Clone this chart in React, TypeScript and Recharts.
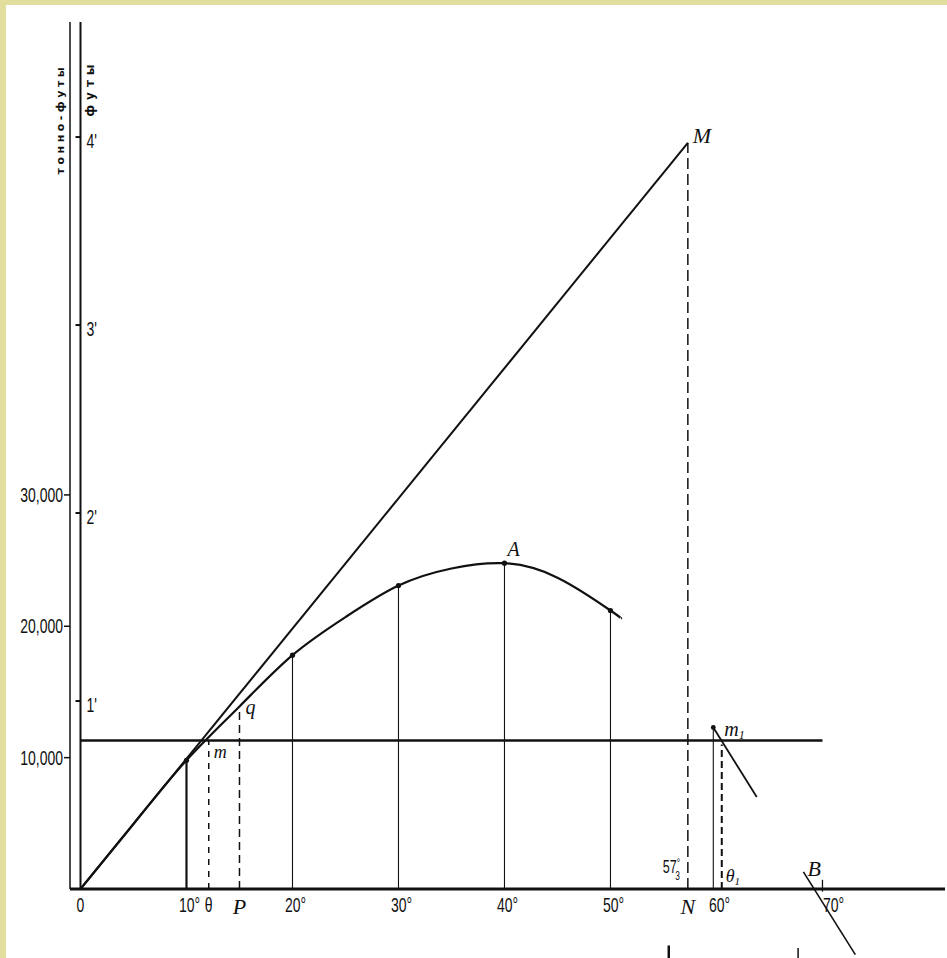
import { ComposedChart, Line, XAxis, YAxis, ReferenceLine, ReferenceDot } from 'recharts';

// moment curve (tonne-feet)
const curveDeg = [0, 5, 10, 15, 20, 25, 30, 35, 40, 45, 50, 51];
const curveVal = [0, 4950, 9800, 13900, 17800, 20700, 23100, 24400, 24800, 23700, 21200, 20600];

// ordinates drawn down from the curve
const ordDeg = [10, 20, 30, 40, 50];
const ordVal = [9800, 17800, 23100, 24800, 21200];

// tangent O-M, reaching 4 ft at one radian
const omDeg = [0, 57.3];
const omVal = [0, 56800];

// horizontal moment line
const heelDeg = [0, 70];
const heelVal = [11300, 11300];

// descending pieces of the curve near m1 and B
const m1Deg = [59.7, 63.8];
const m1Val = [12300, 7000];
const bDeg = [68.2, 73.1];
const bVal = [1300, -5000];

const xTicks = [0, 10, 12.1, 15, 20, 30, 40, 50, 57.3, 60, 70];
const xTickLabels = ['0', '10°', 'θ', 'P', '20°', '30°', '40°', '50°', 'N', '60°', '70°'];
const yTicks = [10000, 20000, 30000];
const ftTicks = [1, 2, 3, 4];
const ftLabels = ["1'", "2'", "3'", "4'"];

const SANS = "'Liberation Sans', Arial, sans-serif";
const SERIF = "'Liberation Serif', 'DejaVu Serif', serif";
const INK = '#111';
const BORDER = '#e2de9e';

// condensed print imitation: squeeze ordinary sans horizontally
const Narrow = ({ x, y, anchor = 'start', size = 20, children }: any) => (
  <text
    transform={`translate(${x} ${y}) scale(0.7 1)`}
    textAnchor={anchor}
    fill={INK}
    fontFamily={SANS}
    fontSize={size}
  >
    {children}
  </text>
);

const XTick = (p: any) => {
  const i = xTicks.indexOf(p.payload.value);
  const label = xTickLabels[i] ?? '';
  const italic = label === 'P' || label === 'N';
  const dx = label === '70°' ? 11 : label.endsWith('°') ? 3 : 0;
  if (italic) {
    return (
      <text x={p.x} y={p.y + 25} textAnchor="middle" fill={INK} fontFamily={SERIF} fontStyle="italic" fontSize={22}>
        {label}
      </text>
    );
  }
  return (
    <Narrow x={p.x + dx} y={p.y + 23} anchor="middle">
      {label}
    </Narrow>
  );
};

const YTick = (p: any) => (
  <Narrow x={p.x} y={p.y + 7} anchor="end">
    {Number(p.payload.value).toLocaleString('en-US')}
  </Narrow>
);

const tag = (text: string, dx: number, dy: number, size = 20) => (p: any) => (
  <text x={p.cx + dx} y={p.cy + dy} fill={INK} fontFamily={SERIF} fontStyle="italic" fontSize={size}>
    {text}
  </text>
);

export default function App() {
  const curve = curveDeg.map((d, i) => ({ deg: d, v: curveVal[i] }));
  const om = omDeg.map((d, i) => ({ deg: d, v: omVal[i] }));
  const heel = heelDeg.map((d, i) => ({ deg: d, v: heelVal[i] }));
  const m1 = m1Deg.map((d, i) => ({ deg: d, v: m1Val[i] }));

  return (
    <div style={{ position: 'absolute', left: 0, top: 0, width: 947, height: 958, background: '#fff', overflow: 'hidden' }}>
      <div style={{ position: 'absolute', left: 0, top: 0, width: 947, height: 5, background: BORDER }} />
      <div style={{ position: 'absolute', left: 0, top: 0, width: 6, height: 958, background: BORDER }} />
      <ComposedChart
        width={947}
        height={958}
        margin={{ top: 22, right: 2, bottom: 39, left: 0 }}
        style={{ position: 'absolute', left: 0, top: 0 }}
      >
        <XAxis
          type="number"
          dataKey="deg"
          domain={[-0.99, 81.56]}
          allowDataOverflow
          ticks={xTicks}
          interval={0}
          tick={(p: any) => <XTick {...p} />}
          tickLine={false}
          tickSize={0}
          tickMargin={0}
          height={30}
          axisLine={{ stroke: INK, strokeWidth: 3 }}
        />
        <YAxis
          type="number"
          domain={[0, 66000]}
          allowDataOverflow
          ticks={yTicks}
          interval={0}
          width={70}
          tickSize={6}
          tickMargin={1}
          tick={(p: any) => <YTick {...p} />}
          tickLine={{ stroke: INK, strokeWidth: 1.5 }}
          axisLine={{ stroke: INK, strokeWidth: 1.5 }}
        />
        <YAxis yAxisId="ft" orientation="right" type="number" domain={[0, 4.612]} allowDataOverflow hide />

        {/* feet axis */}
        <ReferenceLine x={0} stroke={INK} strokeWidth={2} />
        {ftTicks.map((f, i) => (
          <ReferenceDot
            key={f}
            x={0}
            y={f}
            yAxisId="ft"
            shape={(p: any) => (
              <g>
                <line x1={p.cx - 5} x2={p.cx} y1={p.cy} y2={p.cy} stroke={INK} strokeWidth={2} />
                <Narrow x={p.cx + 6} y={p.cy + 11}>
                  {ftLabels[i]}
                </Narrow>
              </g>
            )}
          />
        ))}
        <ReferenceDot
          x={0}
          y={4}
          yAxisId="ft"
          ifOverflow="visible"
          shape={(p: any) => (
            <g fill={INK} fontFamily="'DejaVu Sans', sans-serif" fontWeight="bold">
              <text
                x={p.cx - 19.5}
                y={p.cy - 18}
                transform={`rotate(-90 ${p.cx - 19.5} ${p.cy - 18})`}
                textAnchor="middle"
                dominantBaseline="central"
                fontSize={11}
                letterSpacing={3.5}
              >
                тонно-футы
              </text>
              <text
                x={p.cx + 9.5}
                y={p.cy - 49}
                transform={`rotate(-90 ${p.cx + 9.5} ${p.cy - 49})`}
                textAnchor="middle"
                dominantBaseline="central"
                fontSize={12}
                letterSpacing={5}
              >
                футы
              </text>
            </g>
          )}
        />

        {/* ordinates */}
        {ordDeg.map((d, i) => (
          <ReferenceLine
            key={d}
            segment={[{ x: d, y: 0 }, { x: d, y: ordVal[i] }]}
            stroke={INK}
            strokeWidth={d === 10 ? 2.2 : 1.1}
          />
        ))}
        <ReferenceLine segment={[{ x: m1Deg[0], y: 0 }, { x: m1Deg[0], y: m1Val[0] }]} stroke={INK} strokeWidth={1.1} />

        {/* dashed verticals */}
        <ReferenceLine segment={[{ x: xTicks[2], y: 0 }, { x: xTicks[2], y: heelVal[0] }]} stroke={INK} strokeWidth={1.5} strokeDasharray="6 6" />
        <ReferenceLine segment={[{ x: xTicks[3], y: 0 }, { x: xTicks[3], y: 13600 }]} stroke={INK} strokeWidth={1.5} strokeDasharray="8 5" />
        <ReferenceLine segment={[{ x: omDeg[1], y: 0 }, { x: omDeg[1], y: omVal[1] }]} stroke={INK} strokeWidth={1.5} strokeDasharray="11 5" />
        <ReferenceLine segment={[{ x: 60.5, y: 0 }, { x: 60.5, y: 11000 }]} stroke={INK} strokeWidth={2} strokeDasharray="7 4" />

        <Line data={heel} dataKey="v" type="linear" stroke={INK} strokeWidth={2.5} dot={false} isAnimationActive={false} />
        <Line data={om} dataKey="v" type="linear" stroke={INK} strokeWidth={2} dot={false} isAnimationActive={false} />
        <Line data={curve} dataKey="v" type="natural" stroke={INK} strokeWidth={2.2} dot={false} isAnimationActive={false} />
        <Line data={m1} dataKey="v" type="linear" stroke={INK} strokeWidth={1.8} dot={false} isAnimationActive={false} />
        <ReferenceLine
          segment={[{ x: bDeg[0], y: bVal[0] }, { x: bDeg[1], y: bVal[1] }]}
          ifOverflow="visible"
          stroke={INK}
          strokeWidth={1.6}
        />

        {/* 70° tick above the base line and marks below the picture */}
        <ReferenceLine segment={[{ x: 70, y: -200 }, { x: 70, y: 700 }]} ifOverflow="visible" stroke={INK} strokeWidth={1.3} />
        <ReferenceLine segment={[{ x: 55.5, y: -4300 }, { x: 55.5, y: -5300 }]} ifOverflow="visible" stroke={INK} strokeWidth={2.5} />
        <ReferenceLine segment={[{ x: 67.7, y: -4500 }, { x: 67.7, y: -5300 }]} ifOverflow="visible" stroke={INK} strokeWidth={1.5} />

        {ordDeg.map((d, i) => (
          <ReferenceDot key={`p${d}`} x={d} y={ordVal[i]} r={2.6} fill={INK} stroke="none" />
        ))}
        <ReferenceDot x={m1Deg[0]} y={m1Val[0]} r={2.4} fill={INK} stroke="none" />

        {/* letters */}
        <ReferenceDot x={omDeg[1]} y={omVal[1]} shape={tag('M', 5, 0, 22)} />
        <ReferenceDot x={40} y={24800} shape={tag('A', 3, -7, 20)} />
        <ReferenceDot x={15} y={13900} shape={tag('q', 6, 8, 20)} />
        <ReferenceDot x={xTicks[2]} y={heelVal[0]} shape={tag('m', 5, 17, 18)} />
        <ReferenceDot
          x={m1Deg[0]}
          y={m1Val[0]}
          shape={(p: any) => (
            <text x={p.cx + 11} y={p.cy + 9} fill={INK} fontFamily={SERIF} fontStyle="italic" fontSize={20}>
              m<tspan fontSize={12} dy={3}>1</tspan>
            </text>
          )}
        />
        <ReferenceDot x={bDeg[0]} y={bVal[0]} shape={tag('B', 4, 4, 22)} />
        <ReferenceDot
          x={omDeg[1]}
          y={0}
          shape={(p: any) => (
            <Narrow x={p.cx - 25} y={p.cy - 16} size={18}>
              57<tspan fontSize={12} dy={-6}>°</tspan>
              <tspan fontSize={12} dx={-7} dy={13}>3</tspan>
            </Narrow>
          )}
        />
        <ReferenceDot
          x={60.5}
          y={0}
          shape={(p: any) => (
            <text x={p.cx + 4} y={p.cy - 7} fill={INK} fontFamily={SERIF} fontStyle="italic" fontSize={18}>
              θ<tspan fontSize={11} dy={3}>1</tspan>
            </text>
          )}
        />
      </ComposedChart>
    </div>
  );
}
